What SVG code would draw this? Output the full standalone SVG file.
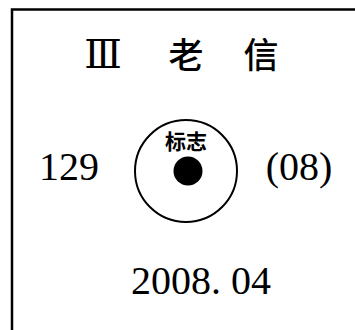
<svg xmlns="http://www.w3.org/2000/svg" width="355" height="330" viewBox="0 0 355 330">
<style>
.serif{font-family:"Liberation Serif","DejaVu Serif","Noto Sans CJK SC",serif;fill:#000}
.cjk{font-family:"Noto Sans CJK SC",sans-serif;fill:#000}
</style>
<rect width="355" height="330" fill="#fff"/>
<g id="frame" fill="none" stroke="#000" stroke-width="2.5">
<path d="M12 330 V9.5 H355"/>
</g>
<g id="title">
<text class="serif" x="103" y="68" font-size="39" text-anchor="middle">Ⅲ</text>
<text class="cjk" x="186" y="68" font-size="35" font-weight="500" text-anchor="middle">老</text>
<text class="cjk" x="261" y="68" font-size="35" font-weight="500" text-anchor="middle">信</text>
</g>
<g id="left-number"><text class="serif" x="69" y="180" font-size="40" text-anchor="middle">129</text></g>
<g id="mark">
<circle cx="186" cy="171" r="51" fill="none" stroke="#000" stroke-width="2"/>
<circle cx="188" cy="171" r="14.5" fill="#000"/>
<text class="cjk" x="186" y="149" font-size="21" font-weight="bold" text-anchor="middle">标志</text>
</g>
<g id="right-number"><text class="serif" x="299" y="180" font-size="40" text-anchor="middle">(08)</text></g>
<g id="date"><text class="serif" x="201" y="294" font-size="40" text-anchor="middle">2008. 04</text></g>
</svg>
